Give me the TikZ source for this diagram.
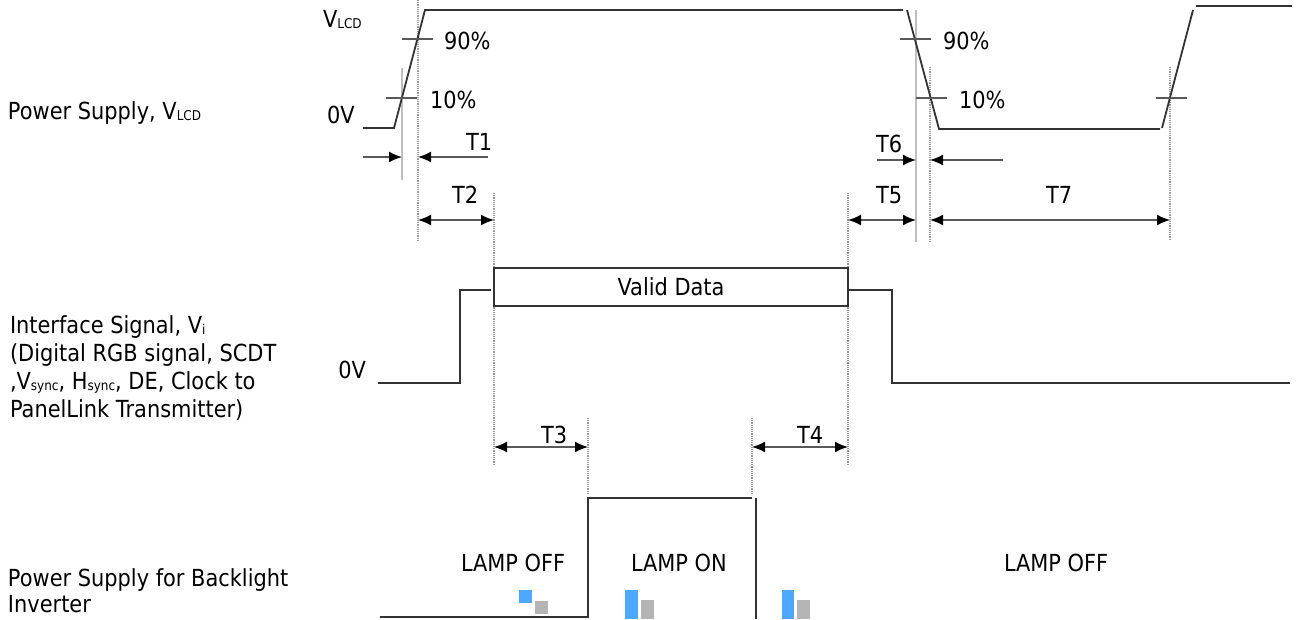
\documentclass[tikz,border=0pt]{standalone}
\usepackage{fontspec}
\setmainfont{DejaVu Sans}[FakeStretch=0.89]
\usepackage{tikz}
\usetikzlibrary{arrows.meta,positioning,calc}
\definecolor{wmblue}{HTML}{4FA8FF}
\definecolor{wmgray}{HTML}{B4B4B4}
\newcommand{\lowsub}[1]{\raisebox{-1.3pt}{\fontsize{13.5pt}{14pt}\selectfont #1}}
\tikzstyle{lbl} = [inner sep=0pt, outer sep=0pt, anchor=base west, font=\fontsize{23.5pt}{28pt}\selectfont]
\tikzstyle{wave} = [draw=black!80, line width=1.8pt]
\tikzstyle{tickline} = [draw=black!65, line width=1.4pt]
\tikzstyle{guide} = [draw=black!40, line width=1.2pt, densely dotted]
\tikzstyle{lightguide} = [draw=black!25, line width=1.2pt]
\tikzstyle{dim} = [draw=black!65, line width=1.6pt, {Latex[length=13pt,width=11pt,black]}-{Latex[length=13pt,width=11pt,black]}]
\tikzstyle{halfdim} = [draw=black!65, line width=1.6pt, -{Latex[length=13pt,width=11pt,black]}]

\begin{document}
\begin{tikzpicture}[x=1pt, y=-1pt, node distance=28pt]
    \useasboundingbox (0,0) rectangle (1298,619);

    % guide lines
    \draw[lightguide] (402,68) -- (402,180);
    \draw[guide] (418,0) -- (418,242);
    \draw[guide] (494,193) -- (494,465);
    \draw[guide] (588,418) -- (588,493);
    \draw[guide] (752,418) -- (752,493);
    \draw[guide] (848,193) -- (848,465);
    \draw[lightguide] (916,10) -- (916,242);
    \draw[guide] (930,67) -- (930,242);
    \draw[guide] (1170,67) -- (1170,240);

    % power supply
    \draw[wave] (363,128) -- (394,128) -- (425,10) -- (903,10);
    \draw[wave] (907,10) -- (939,129) -- (1160,129);
    \draw[wave] (1162,128) -- (1193,10);
    \draw[wave] (1196,6) -- (1292,6);
    \draw[tickline] (402,39) -- (433,39);
    \draw[tickline] (386,98) -- (417,98);
    \draw[tickline] (900,39) -- (931,39);
    \draw[tickline] (916,98) -- (947,98);
    \draw[tickline] (1156,98) -- (1187,98);

    \node[lbl] (vlcd) at (323,27) {V\lowsub{LCD}};
    \node[lbl] (zerotop) at (327,123) {0V};
    \node[lbl] (ninetyl) at (444,49) {90\%};
    \node[lbl] (tenl) at (430,108) {10\%};
    \node[lbl] (ninetyr) at (943,49) {90\%};
    \node[lbl] (tenr) at (959,108) {10\%};

    % timing arrows
    \draw[halfdim] (363,157) -- (402,157);
    \draw[halfdim] (488,157) -- (418,157);
    \draw[halfdim] (877,160) -- (916,160);
    \draw[halfdim] (1003,160) -- (930,160);
    \draw[dim] (418,220) -- (494,220);
    \draw[dim] (848,220) -- (916,220);
    \draw[dim] (930,220) -- (1170,220);
    \draw[dim] (494,447) -- (588,447);
    \draw[dim] (752,447) -- (848,447);

    \node[lbl] (t1) at (466,150) {T1};
    \node[lbl] (t2) at (452,203) {T2};
    \node[lbl] (t3) at (541,443) {T3};
    \node[lbl] (t4) at (797,443) {T4};
    \node[lbl] (t5) at (876,203) {T5};
    \node[lbl] (t6) at (876,152) {T6};
    \node[lbl] (t7) at (1046,203) {T7};

    % interface signal
    \node[lbl, anchor=center, draw=black!80, line width=1.8pt, minimum width=354pt, minimum height=38pt] (valid) at (671,287) {Valid Data};
    \draw[wave] (378,383) -- (460,383) -- (460,290) -- (491,290);
    \draw[wave] (848,290) -- (892,290) -- (892,383) -- (1290,383);
    \node[lbl, anchor=base east] (zeroif) at (366,378) {0V};

    % backlight
    \fill[wmblue] (519,590) rectangle (532,603);
    \fill[wmgray] (535,601) rectangle (548,614);
    \fill[wmblue] (625,590) rectangle (638,619);
    \fill[wmgray] (641,600) rectangle (654,619);
    \fill[wmblue] (782,590) rectangle (794,619);
    \fill[wmgray] (797,600) rectangle (810,619);
    \draw[wave] (380,617) -- (588,617) -- (588,498) -- (752,498);
    \draw[wave] (756,498) -- (756,619);
    \node[lbl] (off1) at (461,571) {LAMP OFF};
    \node[lbl] (on) at (631,571) {LAMP ON};
    \node[lbl] (off2) at (1004,571) {LAMP OFF};

    % signal names
    \node[lbl] (ps) at (8,119) {Power Supply, V\lowsub{LCD}};
    \node[lbl] (if1) at (10,333) {Interface Signal, V\lowsub{i}};
    \node[lbl, below=of if1.base west, anchor=base west] (if2) {(Digital RGB signal, SCDT};
    \node[lbl, below=of if2.base west, anchor=base west] (if3) {,V\lowsub{sync}, H\lowsub{sync}, DE, Clock to};
    \node[lbl, below=of if3.base west, anchor=base west] (if4) {PanelLink Transmitter)};
    \node[lbl] (bl1) at (8,586) {Power Supply for Backlight};
    \node[lbl, below=26pt of bl1.base west, anchor=base west] (bl2) {Inverter};
\end{tikzpicture}
\end{document}
